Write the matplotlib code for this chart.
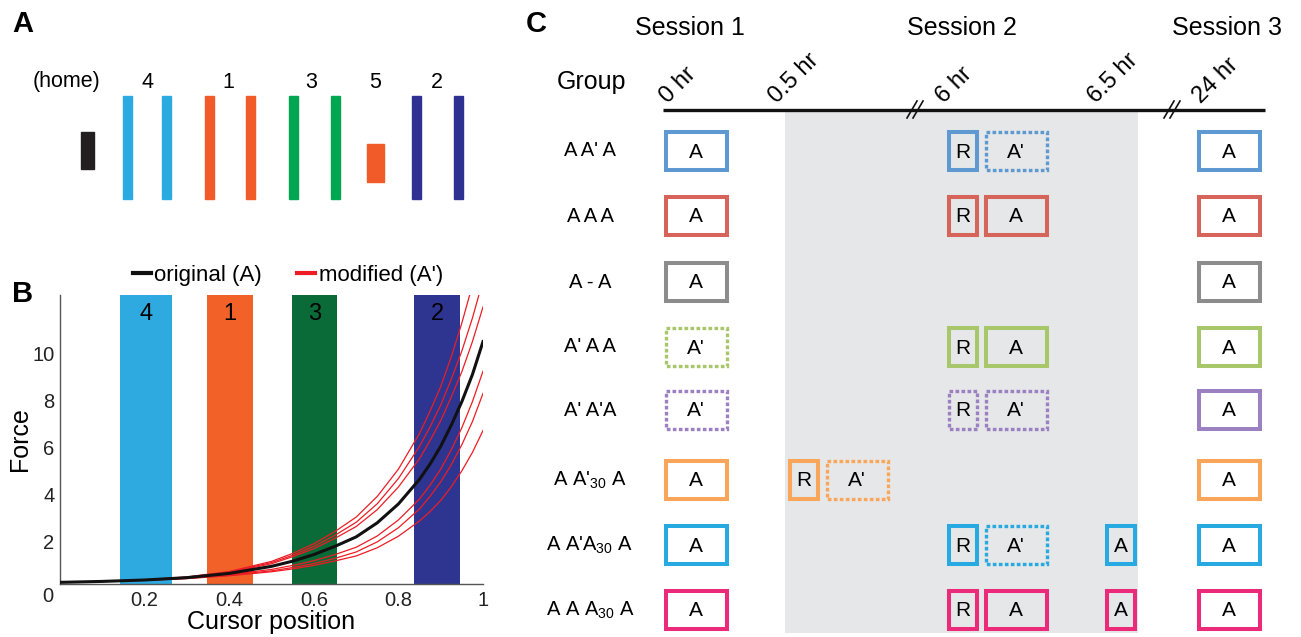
import matplotlib
matplotlib.use('Agg')
import matplotlib.pyplot as plt
from matplotlib.patches import Rectangle
from matplotlib.lines import Line2D

plt.rcParams['font.family'] = ['Liberation Sans', 'DejaVu Sans']
plt.rcParams['mathtext.fontset'] = 'custom'
plt.rcParams['mathtext.rm'] = 'Liberation Sans'
plt.rcParams['mathtext.it'] = 'Liberation Sans:italic'

# ---- panel A: target layout (left to right) ----
target_names = ['4', '1', '3', '5', '2']
target_colors = ['#29abe2', '#f15a29', '#00a651', '#f15a29', '#2e3192']

# ---- panel B: force field ----
cursor_x = [0, 0.1, 0.2, 0.3, 0.4, 0.5, 0.55, 0.6, 0.65, 0.7, 0.75, 0.8, 0.85,
            0.875, 0.9, 0.925, 0.95, 0.975, 1.0]
force_original = [0.27, 0.31, 0.37, 0.47, 0.65, 0.95, 1.17, 1.45, 1.8, 2.2, 2.8, 3.6, 4.65,
                  5.3, 6.05, 6.95, 7.95, 9.1, 10.5]
force_modified = [
    [0.27, 0.31, 0.38, 0.50, 0.73, 1.16, 1.50, 1.91, 2.43, 3.04, 3.92, 5.08, 6.60,
     7.55, 8.59, 9.85, 11.29, 12.9, 14.9],
    [0.27, 0.31, 0.37, 0.49, 0.71, 1.11, 1.42, 1.80, 2.27, 2.82, 3.61, 4.68, 6.05,
     6.88, 7.80, 8.9, 10.10, 11.5, 13.1],
    [0.27, 0.31, 0.37, 0.48, 0.69, 1.06, 1.36, 1.70, 2.14, 2.64, 3.36, 4.32, 5.53,
     6.3, 7.14, 8.15, 9.22, 10.5, 11.97],
    [0.27, 0.31, 0.37, 0.45, 0.60, 0.82, 0.99, 1.19, 1.45, 1.76, 2.24, 2.92, 3.81,
     4.4, 5.08, 5.9, 6.84, 7.95, 9.24],
    [0.27, 0.31, 0.36, 0.44, 0.57, 0.76, 0.90, 1.07, 1.29, 1.56, 1.99, 2.59, 3.39,
     3.93, 4.54, 5.27, 6.12, 7.1, 8.30],
    [0.27, 0.31, 0.36, 0.43, 0.55, 0.72, 0.84, 0.99, 1.18, 1.39, 1.74, 2.23, 2.88,
     3.28, 3.75, 4.33, 5.01, 5.79, 6.72],
]
zone_names = ['4', '1', '3', '2']
zone_edges = [(0.142, 0.264), (0.347, 0.457), (0.548, 0.656), (0.837, 0.946)]
zone_colors = ['#2eaae1', '#f26128', '#0a6b38', '#2e3590']

# ---- panel C: protocol ----
session_names = ['Session 1', 'Session 2', 'Session 3']
time_labels = ['0 hr', '0.5 hr', '6 hr', '6.5 hr', '24 hr']
groups = ["A A' A", 'A A A', 'A - A', "A' A A", "A' A'A",
          r"A A'$\mathregular{_{30}}$ A", r"A A'A$\mathregular{_{30}}$ A",
          r"A A A$\mathregular{_{30}}$ A"]
group_colors = ['#5f99d2', '#d6645a', '#8c8c8c', '#a8c76a', '#9b80c2',
                '#f9a65a', '#27aae1', '#ec2a7a']
# (time index, block label, dotted outline)
group_blocks = [
    [(0, 'A', False), (2, 'R', False), (2, "A'", True), (4, 'A', False)],
    [(0, 'A', False), (2, 'R', False), (2, 'A', False), (4, 'A', False)],
    [(0, 'A', False), (4, 'A', False)],
    [(0, "A'", True), (2, 'R', False), (2, 'A', False), (4, 'A', False)],
    [(0, "A'", True), (2, 'R', True), (2, "A'", True), (4, 'A', False)],
    [(0, 'A', False), (1, 'R', False), (1, "A'", True), (4, 'A', False)],
    [(0, 'A', False), (2, 'R', False), (2, "A'", True), (3, 'A', False), (4, 'A', False)],
    [(0, 'A', False), (2, 'R', False), (2, 'A', False), (3, 'A', False), (4, 'A', False)],
]

W, H = 1301, 637
fig = plt.figure(figsize=(W / 100, H / 100), dpi=100)

# overlay in pixel coordinates for the schematic panels A and C
ov = fig.add_axes([0, 0, 1, 1])
ov.set_xlim(0, W)
ov.set_ylim(H, 0)
ov.axis('off')

# panel A
ov.text(12, 24, 'A', fontsize=21, fontweight='bold', va='center', ha='left')
ov.text(66, 82, '(home)', fontsize=15.5, ha='center', va='center')
ov.add_patch(Rectangle((81, 132), 13, 37, color='#231f20'))
pair_x = [(123, 162), (205, 246), (289, 331), None, (412, 454)]
label_x = [148, 228, 311, 375, 437]
for name, col, px, lx in zip(target_names, target_colors, pair_x, label_x):
    ov.text(lx, 82, name, fontsize=15.5, ha='center', va='center')
    if px is None:
        ov.add_patch(Rectangle((367, 144), 17, 38, color=col))
    else:
        for x0 in px:
            ov.add_patch(Rectangle((x0, 96), 9, 103, color=col))

# panel B
ov.text(12, 294, 'B', fontsize=21, fontweight='bold', va='center', ha='left')
ax = fig.add_axes([60 / W, 1 - 584 / H, (483 - 60) / W, (584 - 295) / H])
ax.set_xlim(0, 1)
ax.set_ylim(0.2, 12.48)
for (x0, x1), col, name in zip(zone_edges, zone_colors, zone_names):
    ax.axvspan(x0, x1, color=col, lw=0, zorder=1)
    ax.text((x0 + x1) / 2, 11.66, name, fontsize=17, ha='center', va='center', zorder=4)
for ys in force_modified:
    ax.plot(cursor_x, ys, color='#ed1c24', lw=0.9, zorder=2, solid_joinstyle='round')
ax.plot(cursor_x, force_original, color='#111111', lw=2.2, zorder=3,
        solid_joinstyle='round')
for s in ['top', 'right']:
    ax.spines[s].set_visible(False)
for s in ['left', 'bottom']:
    ax.spines[s].set_color('#555555')
    ax.spines[s].set_linewidth(1.0)
ax.set_xticks([0.2, 0.4, 0.6, 0.8, 1.0])
ax.set_xticklabels(['0.2', '0.4', '0.6', '0.8', '1'])
ax.set_yticks([2, 4, 6, 8, 10])
ax.tick_params(length=0, labelsize=14.5, colors='#222222')
ax.tick_params(axis='x', pad=5)
ax.tick_params(axis='y', pad=4)
ax.set_xlabel('Cursor position', fontsize=18, labelpad=0)
ax.set_ylabel('Force', fontsize=18, labelpad=0)
ov.text(48, 597, '0', fontsize=14.5, ha='center', va='center', color='#222222')
handles = [Line2D([], [], color='#111111', lw=3),
           Line2D([], [], color='#ed1c24', lw=3)]
fig.legend(handles, ['original (A)', "modified (A')"], loc='center left',
           bbox_to_anchor=(133 / W, 1 - 275 / H), ncol=2, frameon=False,
           fontsize=16, handlelength=0.8, handletextpad=0.15, columnspacing=1.6,
           borderpad=0, borderaxespad=0)

# panel C
ov.text(526, 24, 'C', fontsize=21, fontweight='bold', va='center', ha='left')
for name, x in zip(session_names, [690, 962, 1227]):
    ov.text(x, 28, name, fontsize=18, ha='center', va='center')
ov.text(592, 82, 'Group', fontsize=18, ha='center', va='center')
ov.add_patch(Rectangle((785, 112), 353, 521, color='#e6e7e8', lw=0, zorder=0))
ov.plot([663, 1265], [110, 110], color='#111111', lw=2.4, solid_capstyle='butt')
for bx in [913, 1170]:
    for dx in [0, 6]:
        ov.plot([bx - 6 + dx, bx + 4 + dx], [118, 101], color='#111111', lw=1.2)
for lab, x in zip(time_labels, [668, 777, 944, 1096, 1201]):
    ov.text(x, 104, lab, fontsize=17, rotation=45, rotation_mode='anchor',
            ha='left', va='baseline')

time_x = [664, 788, 947, 1105, 1197]
row_y = [151, 216, 282, 347, 410, 480, 545, 610]
box_h = 38
for name, col, blocks, yc in zip(groups, group_colors, group_blocks, row_y):
    ov.text(590, yc, name, fontsize=14.5, ha='center', va='center')
    cursor = {}
    for t, lab, dotted in blocks:
        w = 31 if (lab == 'R' or t == 3) else 64
        x0 = cursor.get(t, time_x[t])
        cursor[t] = x0 + w + 6
        face = 'white' if t in (0, 4) else 'none'
        if dotted:
            rect = Rectangle((x0 + 1.5, yc - box_h / 2), w - 3, box_h, facecolor=face,
                             edgecolor=col, lw=2.4, linestyle=(0, (1.1, 0.7)))
        else:
            rect = Rectangle((x0 + 1.5, yc - box_h / 2), w - 3, box_h, facecolor=face,
                             edgecolor=col, lw=2.9)
        ov.add_patch(rect)
        ov.text(x0 + w / 2, yc + 1, lab, fontsize=15, ha='center', va='center')

fig.savefig('out.png', dpi=100)
